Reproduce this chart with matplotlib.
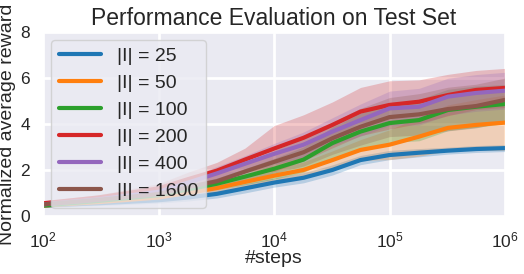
import matplotlib
matplotlib.use("Agg")
import matplotlib.pyplot as plt
import seaborn as sns
import numpy as np

# evaluation steps (log-spaced checkpoints)
steps = [100, 300, 1000, 1800, 3200, 5600, 10000, 18000, 32000, 56000,
         100000, 180000, 320000, 560000, 1000000]

labels = ['|I| = 25', '|I| = 50', '|I| = 100', '|I| = 200', '|I| = 400', '|I| = 1600']
colors = ['#1f77b4', '#ff7f0e', '#2ca02c', '#d62728', '#9467bd', '#8c564b']

# mean normalized reward per run size
mean_25 = [0.45, 0.55, 0.68, 0.80, 0.96, 1.20, 1.45, 1.66, 2.00, 2.43, 2.65, 2.75, 2.84, 2.91, 2.95]
mean_50 = [0.45, 0.60, 0.80, 1.00, 1.21, 1.48, 1.75, 2.00, 2.43, 2.87, 3.10, 3.45, 3.83, 3.96, 4.06]
mean_100 = [0.45, 0.65, 0.90, 1.15, 1.40, 1.71, 2.05, 2.45, 3.17, 3.67, 4.04, 4.17, 4.61, 4.75, 4.87]
mean_200 = [0.55, 0.80, 1.20, 1.60, 1.97, 2.45, 2.93, 3.40, 3.96, 4.54, 4.83, 4.97, 5.26, 5.48, 5.57]
mean_400 = [0.50, 0.72, 1.05, 1.45, 1.85, 2.27, 2.70, 3.10, 3.67, 4.17, 4.68, 4.75, 5.19, 5.35, 5.45]
mean_1600 = [0.50, 0.70, 0.95, 1.25, 1.51, 1.93, 2.35, 2.77, 3.38, 3.88, 4.30, 4.42, 4.65, 4.78, 5.05]

# standard deviation across seeds
std_25 = [0.08, 0.10, 0.12, 0.15, 0.18, 0.20, 0.20, 0.22, 0.22, 0.20, 0.20, 0.18, 0.15, 0.15, 0.15]
std_50 = [0.08, 0.10, 0.15, 0.18, 0.20, 0.25, 0.30, 0.35, 0.40, 0.45, 0.65, 0.85, 1.00, 1.10, 1.20]
std_100 = [0.08, 0.10, 0.15, 0.20, 0.25, 0.35, 0.45, 0.55, 0.70, 0.80, 0.85, 0.90, 0.90, 0.90, 0.85]
std_200 = [0.10, 0.12, 0.20, 0.30, 0.36, 0.50, 1.00, 1.00, 1.00, 1.05, 1.05, 0.95, 0.90, 0.85, 0.85]
std_400 = [0.08, 0.10, 0.15, 0.20, 0.30, 0.35, 0.45, 0.55, 0.60, 0.70, 0.75, 0.80, 0.80, 0.80, 0.80]
std_1600 = [0.08, 0.10, 0.15, 0.20, 0.30, 0.40, 0.50, 0.60, 0.70, 0.80, 0.85, 0.90, 0.95, 0.95, 0.95]

means = [mean_25, mean_50, mean_100, mean_200, mean_400, mean_1600]
stds = [std_25, std_50, std_100, std_200, std_400, std_1600]

sns.set_style('darkgrid')
plt.rcParams['font.family'] = ['Liberation Sans', 'DejaVu Sans']
plt.rcParams['mathtext.fontset'] = 'custom'
plt.rcParams['mathtext.rm'] = 'Liberation Sans'
plt.rcParams['mathtext.it'] = 'Liberation Sans:italic'
plt.rcParams['text.color'] = '#262626'

fig = plt.figure(figsize=(5.24, 2.74), dpi=100)
ax = fig.add_axes([0.082, 0.212, 0.882, 0.671])

x = np.array(steps)
for m, s, c, lab in zip(means, stds, colors, labels):
    m = np.array(m)
    s = np.array(s)
    ax.fill_between(x, m - s, m + s, color=c, alpha=0.25, linewidth=0)
    ax.plot(x, m, color=c, linewidth=3, label=lab)

ax.set_xscale('log')
ax.set_xlim(100, 1e6)
ax.set_ylim(0, 8)
ax.set_yticks([0, 2, 4, 6, 8])
ax.grid(True, color='white', linewidth=2)
ax.tick_params(axis='y', labelsize=12.5, pad=6)
ax.tick_params(axis='x', labelsize=12.5, pad=7)

ax.set_title('Performance Evaluation on Test Set', fontsize=16.5, pad=5)
ax.set_xlabel('#steps', fontsize=14, labelpad=0)
ax.set_ylabel('Normalized average reward', fontsize=14, labelpad=3)

leg = ax.legend(loc='upper left', fontsize=14, handlelength=2.2,
                borderpad=0.4, borderaxespad=0.4, labelspacing=0.48)
for line in leg.get_lines():
    line.set_linewidth(3)

fig.savefig('out.png', dpi=100)
